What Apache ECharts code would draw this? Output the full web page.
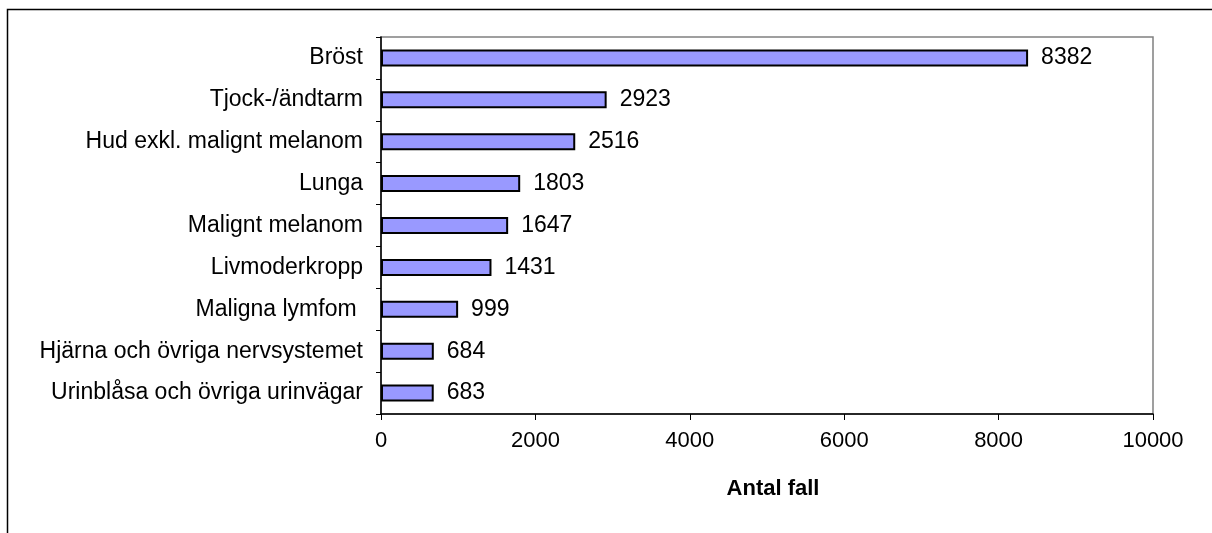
<!DOCTYPE html>
<html>
<head>
<meta charset="utf-8">
<script src="https://cdn.jsdelivr.net/npm/echarts@6/dist/echarts.min.js"></script>
<style>
  html, body { margin: 0; padding: 0; background: #fff; }
  #chart { width: 1212px; height: 533px; }
</style>
</head>
<body>
<div id="chart"></div>
<script>
// categories bottom-to-top (ECharts category y-axis starts from the bottom)
const categories = [
  'Urinblåsa och övriga urinvägar',
  'Hjärna och övriga nervsystemet',
  'Maligna lymfom ',
  'Livmoderkropp',
  'Malignt melanom',
  'Lunga',
  'Hud exkl. malignt melanom',
  'Tjock-/ändtarm',
  'Bröst'
];
const cases = [683, 684, 999, 1431, 1647, 1803, 2516, 2923, 8382];
const xTicks = [0, 10000, 2000]; // min, max, interval

const chart = echarts.init(document.getElementById('chart'));

const font = 'Arial, "Liberation Sans", sans-serif';

chart.setOption({
  backgroundColor: '#fff',
  animation: false,
  textStyle: { fontFamily: font },
  grid: {
    left: 381,
    right: 59,
    top: 37,
    bottom: 119,
    show: true,
    borderColor: '#808080',
    borderWidth: 1.5
  },
  graphic: [
    {
      type: 'polyline',
      shape: { points: [[7.5, 533], [7.5, 9.5], [1212, 9.5]] },
      style: { stroke: '#000', lineWidth: 1.5, fill: null }
    }
  ],
  xAxis: {
    type: 'value',
    min: xTicks[0],
    max: xTicks[1],
    interval: xTicks[2],
    name: 'Antal fall',
    nameLocation: 'middle',
    nameGap: 64,
    nameTextStyle: { fontSize: 22, fontWeight: 'bold', color: '#000', fontFamily: font, padding: [0, 0, 0, 12] },
    axisLine: { show: true, lineStyle: { color: '#000', width: 1.5 } },
    axisTick: { show: true, length: 6, lineStyle: { color: '#000' } },
    axisLabel: { fontSize: 22, color: '#000', margin: 16, fontFamily: font, formatter: v => String(v) },
    splitLine: { show: false }
  },
  yAxis: {
    type: 'category',
    data: categories,
    axisLine: { show: true, lineStyle: { color: '#000', width: 1.5 } },
    axisTick: { show: true, length: 5, lineStyle: { color: '#000' } },
    axisLabel: { fontSize: 23, color: '#000', margin: 18, fontFamily: font }
  },
  series: [
    {
      type: 'bar',
      data: cases,
      barWidth: 17,
      itemStyle: { color: '#9999FF', borderColor: '#000', borderWidth: 2 },
      label: {
        show: true,
        position: 'right',
        distance: 13,
        fontSize: 23,
        color: '#000',
        fontFamily: font
      }
    }
  ]
});
</script>
</body>
</html>
